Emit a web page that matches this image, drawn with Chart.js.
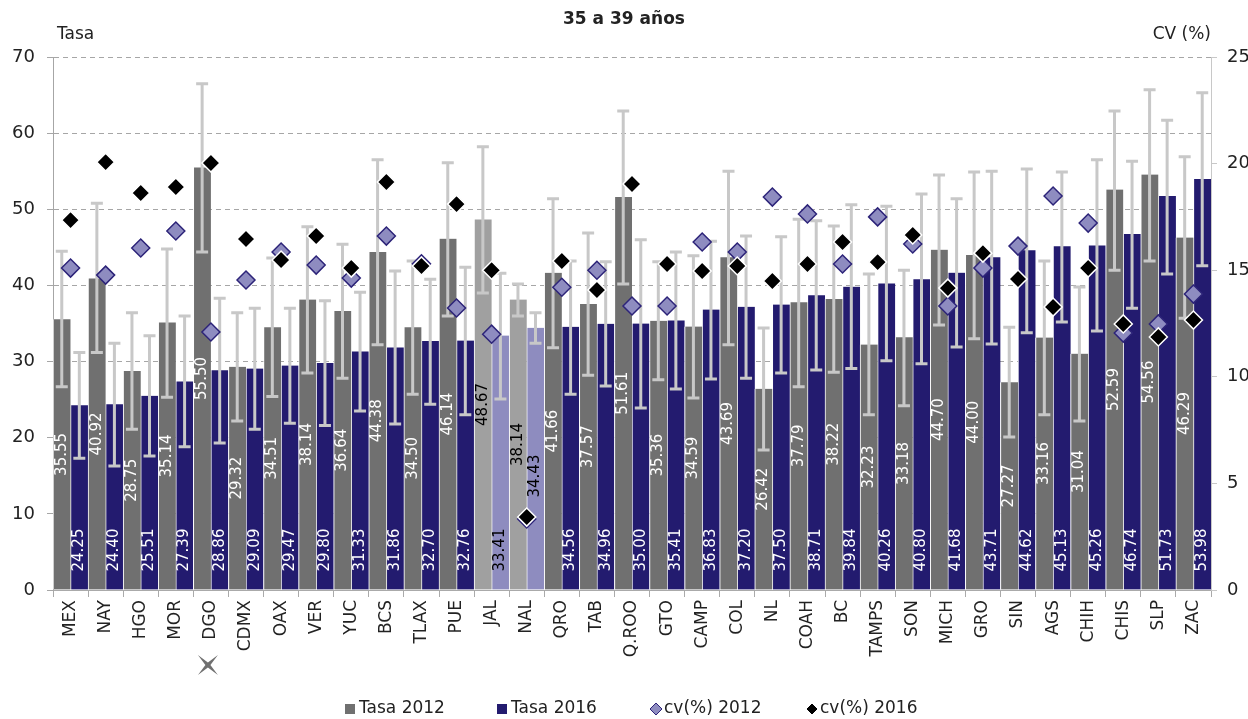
<!DOCTYPE html>
<html>
<head>
<meta charset="utf-8">
<script src="https://cdn.jsdelivr.net/npm/chart.js@4.4.0/dist/chart.umd.min.js"></script>
<style>
  html, body { margin: 0; padding: 0; background: #fff; }
  #wrap { width: 1248px; height: 719px; }
</style>
</head>
<body>
<div id="wrap"><canvas id="chart"></canvas></div>
<script>
const states = ["MEX", "NAY", "HGO", "MOR", "DGO", "CDMX", "OAX", "VER", "YUC", "BCS", "TLAX", "PUE", "JAL", "NAL", "QRO", "TAB", "Q.ROO", "GTO", "CAMP", "COL", "NL", "COAH", "BC", "TAMPS", "SON", "MICH", "GRO", "SIN", "AGS", "CHIH", "CHIS", "SLP", "ZAC"];

const tasa2012 = [35.55, 40.92, 28.75, 35.14, 55.50, 29.32, 34.51, 38.14, 36.64, 44.38, 34.50, 46.14, 48.67, 38.14, 41.66, 37.57, 51.61, 35.36, 34.59, 43.69, 26.42, 37.79, 38.22, 32.23, 33.18, 44.70, 44.00, 27.27, 33.16, 31.04, 52.59, 54.56, 46.29];
const tasa2016 = [24.25, 24.40, 25.51, 27.39, 28.86, 29.09, 29.47, 29.80, 31.33, 31.86, 32.70, 32.76, 33.41, 34.43, 34.56, 34.96, 35.00, 35.41, 36.83, 37.20, 37.50, 38.71, 39.84, 40.26, 40.80, 41.68, 43.71, 44.62, 45.13, 45.26, 46.74, 51.73, 53.98];

// intervalos (barras de error)
const low2012 = [26.7, 31.2, 21.1, 25.3, 44.4, 22.2, 25.4, 28.5, 27.8, 32.2, 25.7, 36.0, 39.0, 36.0, 31.8, 28.2, 40.2, 27.6, 25.2, 32.2, 18.4, 26.7, 28.6, 23.0, 24.2, 34.8, 33.0, 20.1, 23.0, 22.2, 42.0, 43.2, 35.7];
const high2012 = [44.5, 50.8, 36.4, 44.8, 66.5, 36.4, 43.6, 47.7, 45.4, 56.5, 43.2, 56.1, 58.2, 40.2, 51.4, 46.9, 62.9, 43.1, 43.9, 55.0, 34.4, 48.7, 47.8, 41.5, 42.0, 54.5, 54.9, 34.5, 43.2, 39.8, 62.9, 65.7, 56.9];
const low2016 = [17.3, 16.3, 17.6, 18.8, 19.3, 21.1, 21.9, 21.6, 23.5, 21.8, 24.4, 23.0, 25.1, 32.4, 25.7, 26.8, 23.9, 26.4, 27.7, 27.8, 28.5, 28.9, 29.1, 30.1, 29.7, 31.9, 32.3, 33.8, 35.2, 34.0, 37.0, 41.5, 42.6];
const high2016 = [31.2, 32.4, 33.4, 36.0, 38.3, 37.0, 37.0, 38.0, 39.1, 41.9, 40.8, 42.4, 41.6, 36.4, 43.2, 43.1, 46.0, 44.4, 45.8, 46.5, 46.4, 48.5, 50.6, 50.4, 52.0, 51.4, 55.0, 55.3, 54.9, 56.5, 56.3, 61.7, 65.3];

const cv2012 = [15.1, 14.77, 16.04, 16.84, 12.1, 14.54, 15.85, 15.24, 14.63, 16.6, 15.3, 13.23, 12.0, 3.33, 14.2, 15.0, 13.32, 13.32, 16.32, 15.85, 18.43, 17.64, 15.29, 17.5, 16.23, 13.32, 15.1, 16.13, 18.48, 17.21, 12.05, 12.48, 13.88];
const cv2016 = [17.35, 20.07, 18.62, 18.9, 20.03, 16.46, 15.48, 16.6, 15.1, 19.14, 15.2, 18.1, 15.0, 3.42, 15.43, 14.07, 19.04, 15.29, 14.96, 15.2, 14.49, 15.29, 16.32, 15.38, 16.65, 14.16, 15.8, 14.59, 13.27, 15.1, 12.48, 11.87, 12.66];

const leftTicks = [0, 10, 20, 30, 40, 50, 60, 70];
const rightTicks = [0, 5, 10, 15, 20, 25];

const highlighted = ["JAL", "NAL"];
const FONT = "'DejaVu Sans', sans-serif";

const isHi = (i) => highlighted.includes(states[i]);
const colors2012 = states.map((s, i) => (isHi(i) ? "#a0a0a0" : "#707070"));
const colors2016 = states.map((s, i) => (isHi(i) ? "#8e8cbf" : "#231b6f"));

function drawErrorBars(ctx, meta, yScale, lows, highs) {
  ctx.save();
  ctx.strokeStyle = "#c8c8c8";
  ctx.lineWidth = 3;
  meta.data.forEach((bar, i) => {
    const yl = yScale.getPixelForValue(lows[i]);
    const yh = yScale.getPixelForValue(highs[i]);
    ctx.beginPath();
    ctx.moveTo(bar.x, yl);
    ctx.lineTo(bar.x, yh);
    ctx.moveTo(bar.x - 6, yl);
    ctx.lineTo(bar.x + 6, yl);
    ctx.moveTo(bar.x - 6, yh);
    ctx.lineTo(bar.x + 6, yh);
    ctx.stroke();
  });
  ctx.restore();
}

function drawBarLabels(ctx, meta, values, atBase) {
  ctx.save();
  ctx.font = "15px " + FONT;
  meta.data.forEach((bar, i) => {
    ctx.fillStyle = isHi(i) ? "#000" : "#fff";
    let y, align;
    if (atBase && states[i] === "NAL") {
      y = bar.base - 92;
      align = "left";
    } else if (atBase) {
      y = bar.base - 18;
      align = "left";
    } else {
      y = (bar.base + bar.y) / 2;
      align = "center";
    }
    ctx.save();
    ctx.translate(bar.x, y);
    ctx.rotate(-Math.PI / 2);
    ctx.textAlign = align;
    ctx.textBaseline = "middle";
    ctx.fillText(values[i].toFixed(2), 0, 0);
    ctx.restore();
  });
  ctx.restore();
}

const barExtras = {
  id: "barExtras",
  afterDatasetDraw(chart, args) {
    const ctx = chart.ctx;
    const y = chart.scales.y;
    if (args.index === 0) {
      drawErrorBars(ctx, args.meta, y, low2012, high2012);
      drawBarLabels(ctx, args.meta, tasa2012, false);
    } else if (args.index === 1) {
      drawErrorBars(ctx, args.meta, y, low2016, high2016);
      drawBarLabels(ctx, args.meta, tasa2016, true);
    }
  },
};

function diamond(ctx, x, y, r) {
  ctx.beginPath();
  ctx.moveTo(x, y - r);
  ctx.lineTo(x + r, y);
  ctx.lineTo(x, y + r);
  ctx.lineTo(x - r, y);
  ctx.closePath();
}

const texts = {
  id: "texts",
  afterDraw(chart) {
    const ctx = chart.ctx;
    const area = chart.chartArea;
    ctx.save();
    ctx.fillStyle = "#222";
    ctx.textBaseline = "middle";
    ctx.font = "bold 17px " + FONT;
    ctx.textAlign = "center";
    ctx.fillText("35 a 39 años", 624, 20);
    ctx.font = "17px " + FONT;
    ctx.textAlign = "left";
    ctx.fillText("Tasa", area.left + 4, 35);
    ctx.textAlign = "right";
    ctx.fillText("CV (%)", area.right, 35);

    // leyenda
    const ly = 709;
    const ds = chart.data.datasets;
    const items = [345, 497, 650, 806];
    ctx.textAlign = "left";
    items.forEach((lx, d) => {
      if (d < 2) {
        ctx.fillStyle = ds[d].backgroundColor[0];
        ctx.fillRect(lx, ly - 5, 10, 10);
      } else {
        diamond(ctx, lx + 6, ly, 6);
        ctx.fillStyle = ds[d].pointBackgroundColor;
        ctx.fill();
        ctx.strokeStyle = ds[d].pointBorderColor;
        ctx.lineWidth = 1;
        ctx.stroke();
      }
      ctx.fillStyle = "#222";
      ctx.fillText(ds[d].label, lx + 14, ly);
    });

    // marca bajo DGO
    const x = chart.scales.x.getPixelForValue(states.indexOf("DGO")) - 3;
    const yy = 665;
    ctx.fillStyle = "#707070";
    ctx.beginPath();
    const r = 10, k = 2.5;
    ctx.moveTo(x - r, yy - r);
    ctx.lineTo(x, yy - k);
    ctx.lineTo(x + r, yy - r);
    ctx.lineTo(x + k, yy);
    ctx.lineTo(x + r, yy + r);
    ctx.lineTo(x, yy + k);
    ctx.lineTo(x - r, yy + r);
    ctx.lineTo(x - k, yy);
    ctx.closePath();
    ctx.fill();
    ctx.restore();
  },
};

new Chart(document.getElementById("chart"), {
  data: {
    labels: states,
    datasets: [
      {
        type: "bar",
        label: "Tasa 2012",
        data: tasa2012,
        backgroundColor: colors2012,
        borderColor: "#ffffff",
        borderWidth: { left: 1, right: 0, top: 0, bottom: 0 },
        barPercentage: 1,
        categoryPercentage: 1,
        yAxisID: "y",
        order: 2,
      },
      {
        type: "bar",
        label: "Tasa 2016",
        data: tasa2016,
        backgroundColor: colors2016,
        borderColor: "#ffffff",
        borderWidth: { left: 1, right: 0, top: 0, bottom: 0 },
        barPercentage: 1,
        categoryPercentage: 1,
        yAxisID: "y",
        order: 3,
      },
      {
        type: "line",
        label: "cv(%) 2012",
        data: cv2012,
        showLine: false,
        pointStyle: "rectRot",
        pointRadius: 9,
        pointHoverRadius: 9,
        pointBackgroundColor: "#8e8cc0",
        pointBorderColor: "#2d2479",
        pointBorderWidth: 1.5,
        yAxisID: "y1",
        order: 1,
      },
      {
        type: "line",
        label: "cv(%) 2016",
        data: cv2016,
        showLine: false,
        pointStyle: "rectRot",
        pointRadius: 9,
        pointHoverRadius: 9,
        pointBackgroundColor: "#000000",
        pointBorderColor: "#ffffff",
        pointBorderWidth: 1.5,
        yAxisID: "y1",
        order: 0,
      },
    ],
  },
  options: {
    responsive: true,
    maintainAspectRatio: false,
    animation: false,
    layout: { padding: { top: 57, left: 0, right: 0, bottom: 0 } },
    scales: {
      x: {
        ticks: { color: "#222", font: { family: FONT, size: 17 }, maxRotation: 90, minRotation: 90, padding: 3, autoSkip: false },
        grid: { drawOnChartArea: false, tickLength: 7, color: "#aaaaaa", offset: true },
        border: { color: "#aaaaaa" },
        afterFit: (scale) => {
          scale.height = 719 - 590;
        },
      },
      y: {
        position: "left",
        min: 0,
        max: 70,
        afterBuildTicks: (scale) => {
          scale.ticks = leftTicks.map((v) => ({ value: v }));
        },
        ticks: { color: "#222", font: { family: FONT, size: 18 }, padding: 12 },
        grid: { color: "#a6a6a6", tickLength: 6, lineWidth: 1 },
        border: { color: "#a6a6a6", dash: [5, 4] },
        afterFit: (scale) => {
          scale.width = 53;
        },
      },
      y1: {
        position: "right",
        min: 0,
        max: 25,
        afterBuildTicks: (scale) => {
          scale.ticks = rightTicks.map((v) => ({ value: v }));
        },
        ticks: { color: "#222", font: { family: FONT, size: 18 }, padding: 10 },
        grid: { drawOnChartArea: false, tickLength: 6, color: "#c8c8c8" },
        border: { color: "#c8c8c8" },
        afterFit: (scale) => {
          scale.width = 37;
        },
      },
    },
    plugins: {
      title: { display: false },
      tooltip: { enabled: false },
      legend: { display: false },
    },
  },
  plugins: [barExtras, texts],
});
</script>
</body>
</html>
